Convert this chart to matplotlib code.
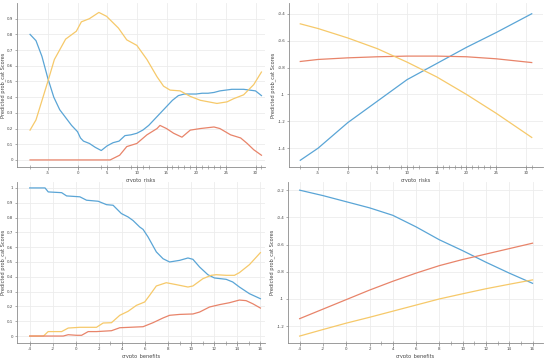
import numpy as np
import matplotlib
matplotlib.use("Agg")
import matplotlib.pyplot as plt

plt.rcParams["axes.unicode_minus"] = False

blue = "#5aa5d6"
yellow = "#f6c96a"
red = "#e8846a"
ylab = "Predicted prob_cat Scores"

# --- top left: crypto_risks (nonparametric) ---
tl_blue_x = [-8, -7, -6, -5, -4, -3, -2, -1, 0, 0.5, 1, 2, 3, 4, 5, 6, 7, 8, 9, 10, 11, 12, 13, 14,
             15, 16, 17, 18, 19, 20, 21, 22, 23, 24, 25, 26, 27, 28, 29, 30, 31]
tl_blue_y = [0.80, 0.76, 0.66, 0.52, 0.40, 0.32, 0.27, 0.22, 0.18, 0.14, 0.12, 0.105, 0.08, 0.06,
             0.09, 0.11, 0.12, 0.155, 0.16, 0.17, 0.19, 0.22, 0.26, 0.30, 0.34, 0.38, 0.41, 0.42,
             0.42, 0.42, 0.425, 0.425, 0.43, 0.44, 0.445, 0.45, 0.45, 0.45, 0.445, 0.44, 0.41]
tl_yel_x = [-8, -7, -5, -3.9, -2, -0.2, 0.65, 2, 3.6, 4.9, 6.9, 8.3, 10, 11.7, 13.4, 14.5, 15.6,
            17.3, 19, 20.7, 23.5, 25.2, 26.3, 28, 29.7, 31]
tl_yel_y = [0.19, 0.255, 0.50, 0.64, 0.77, 0.82, 0.88, 0.90, 0.94, 0.915, 0.84, 0.765, 0.73,
            0.64, 0.53, 0.47, 0.445, 0.44, 0.405, 0.38, 0.36, 0.37, 0.39, 0.415, 0.48, 0.56]
tl_red_x = [-8, 5.5, 7.1, 8.3, 10, 11.7, 13.4, 13.9, 15, 16.2, 17.6, 19, 20.7, 23, 24, 25.8,
            27.5, 28.6, 29.7, 31]
tl_red_y = [0, 0, 0.03, 0.085, 0.105, 0.16, 0.20, 0.22, 0.20, 0.17, 0.145, 0.19, 0.20, 0.21,
            0.20, 0.16, 0.14, 0.105, 0.065, 0.03]

# --- top right: crypto_risks (parametric) ---
tr_x = [-8, -5, 0, 5, 10, 15, 20, 25, 31]
tr_blue = [-1.49, -1.40, -1.21, -1.05, -0.89, -0.77, -0.65, -0.54, -0.40]
tr_red = [-0.755, -0.74, -0.728, -0.72, -0.715, -0.715, -0.72, -0.735, -0.763]
tr_yel = [-0.475, -0.51, -0.58, -0.66, -0.76, -0.87, -1.0, -1.14, -1.32]
risk_rug = [-8, 0, 4, 5, 7, 9, 10, 11, 12, 15, 16, 17, 18, 19, 20, 21, 22, 23, 24, 25, 30, 31]

# --- bottom left: crypto_benefits (nonparametric) ---
bl_blue_x = [-4, -2.67, -2.39, -1.23, -0.8, 0.35, 0.93, 1.94, 2.66, 3.23, 3.95, 4.53, 4.96,
             5.54, 5.83, 6.26, 6.98, 7.56, 8.13, 9, 9.72, 10.15, 10.73, 11.45, 12.02, 13.03,
             13.6, 14.18, 15.05, 16]
bl_blue_y = [1.0, 1.0, 0.973, 0.968, 0.946, 0.94, 0.917, 0.91, 0.887, 0.883, 0.827, 0.804, 0.78,
             0.736, 0.72, 0.669, 0.568, 0.522, 0.5, 0.511, 0.527, 0.518, 0.466, 0.414, 0.392,
             0.383, 0.365, 0.331, 0.286, 0.252]
bl_yel_x = [-4, -2.8, -2.4, -1.23, -0.66, 0.35, 1.79, 2.37, 3.09, 3.81, 4.53, 5.25, 5.97, 6.4,
            6.98, 7.84, 8.71, 9.72, 10.15, 11.01, 11.73, 12.17, 13.03, 13.75, 14.18, 15.05, 16]
bl_yel_y = [0, 0, 0.03, 0.03, 0.054, 0.059, 0.059, 0.088, 0.09, 0.14, 0.167, 0.207, 0.23, 0.275,
            0.338, 0.36, 0.347, 0.331, 0.338, 0.387, 0.41, 0.414, 0.41, 0.41, 0.428, 0.482, 0.563]
bl_red_x = [-4, -1.09, -0.66, 0.06, 0.5, 1.07, 1.79, 3.09, 3.81, 4.67, 5.83, 6.69, 7.56, 8.13,
            9, 10.15, 10.73, 11.59, 12.46, 13.32, 14.18, 14.76, 15.34, 16]
bl_red_y = [0, 0, 0.009, 0.005, 0.005, 0.03, 0.03, 0.036, 0.056, 0.059, 0.063, 0.09, 0.122,
            0.14, 0.146, 0.149, 0.162, 0.196, 0.212, 0.225, 0.243, 0.239, 0.218, 0.189]

# --- bottom right: crypto_benefits (parametric) ---
br_x = [-4, -2, 0, 2, 4, 6, 8, 10, 12, 14, 16]
br_blue = [-0.20, -0.24, -0.285, -0.33, -0.385, -0.47, -0.565, -0.645, -0.73, -0.81, -0.885]
br_red = [-1.145, -1.075, -1.005, -0.935, -0.87, -0.81, -0.755, -0.71, -0.67, -0.63, -0.59]
br_yel = [-1.273, -1.225, -1.178, -1.135, -1.09, -1.045, -1.0, -0.962, -0.925, -0.892, -0.86]
ben_rug = [-4, 0, 3, 4, 6, 8, 9, 10, 11, 12, 13, 14, 15, 16]

W, H = 550, 358
fig = plt.figure(figsize=(W / 100, H / 100), dpi=100)


def box(l, t, r, b):
    return [l / W, 1 - b / H, (r - l) / W, (b - t) / H]


def style(ax, xlabel, xticks, yticks, px_w, px_h, ylab_dx):
    ax.set_xticks(xticks)
    ax.set_yticks(yticks)
    ax.set_yticklabels(["%g" % v for v in yticks])
    ax.grid(True, color="#ececec", linewidth=0.6)
    ax.set_axisbelow(True)
    for s in ["top", "right"]:
        ax.spines[s].set_visible(False)
    for s in ["left", "bottom"]:
        ax.spines[s].set_color("#8c8c8c")
        ax.spines[s].set_linewidth(0.6)
    ax.tick_params(labelsize=2.9, length=1.8, width=0.5, color="#8c8c8c", pad=1.0, labelcolor="#444444")
    ax.set_xlabel(xlabel, fontsize=3.6, color="#444444")
    ax.set_ylabel(ylab, fontsize=3.6, color="#444444")
    ax.xaxis.set_label_coords(0.5, -10 / px_h)
    ax.yaxis.set_label_coords(ylab_dx / px_w, 0.5)


def rug(ax, vals):
    ax.plot(vals, [0] * len(vals), "|", color="#999999", markersize=3, markeredgewidth=0.5,
            transform=ax.get_xaxis_transform(), clip_on=False)


lw = 0.9

ax1 = fig.add_axes(box(17, 3, 265, 167))
ax1.plot(tl_blue_x, tl_blue_y, color=blue, lw=lw)
ax1.plot(tl_yel_x, tl_yel_y, color=yellow, lw=lw)
ax1.plot(tl_red_x, tl_red_y, color=red, lw=lw)
ax1.set_xlim(-10.2, 31.6)
ax1.set_ylim(-0.045, 1.0)
style(ax1, "crypto_risks", [-5, 0, 5, 10, 15, 20, 25, 30], [i / 10 for i in range(10)], 248, 164, -11)
rug(ax1, risk_rug)

ax2 = fig.add_axes(box(289, 3, 543, 167))
ax2.plot(tr_x, tr_blue, color=blue, lw=lw)
ax2.plot(tr_x, tr_red, color=red, lw=lw)
ax2.plot(tr_x, tr_yel, color=yellow, lw=lw)
ax2.set_xlim(-9.9, 32.9)
ax2.set_ylim(-1.54, -0.32)
style(ax2, "crypto_risks", [-5, 0, 5, 10, 15, 20, 25, 30], [-1.4, -1.2, -1.0, -0.8, -0.6, -0.4],
      254, 164, -13)
rug(ax2, risk_rug)

ax3 = fig.add_axes(box(17, 182, 265, 343))
ax3.plot(bl_blue_x, bl_blue_y, color=blue, lw=lw)
ax3.plot(bl_yel_x, bl_yel_y, color=yellow, lw=lw)
ax3.plot(bl_red_x, bl_red_y, color=red, lw=lw)
ax3.set_xlim(-5.1, 16.4)
ax3.set_ylim(-0.047, 1.04)
style(ax3, "crypto_benefits", list(range(-4, 17, 2)), [i / 10 for i in range(11)], 248, 161, -11)
rug(ax3, ben_rug)

ax4 = fig.add_axes(box(288, 182, 543, 343))
ax4.plot(br_x, br_blue, color=blue, lw=lw)
ax4.plot(br_x, br_red, color=red, lw=lw)
ax4.plot(br_x, br_yel, color=yellow, lw=lw)
ax4.set_xlim(-5.0, 16.9)
ax4.set_ylim(-1.324, -0.14)
style(ax4, "crypto_benefits", list(range(-4, 17, 2)), [-1.2, -1.0, -0.8, -0.6, -0.4, -0.2],
      255, 161, -13)
rug(ax4, ben_rug)

fig.savefig("out.png", dpi=100)
